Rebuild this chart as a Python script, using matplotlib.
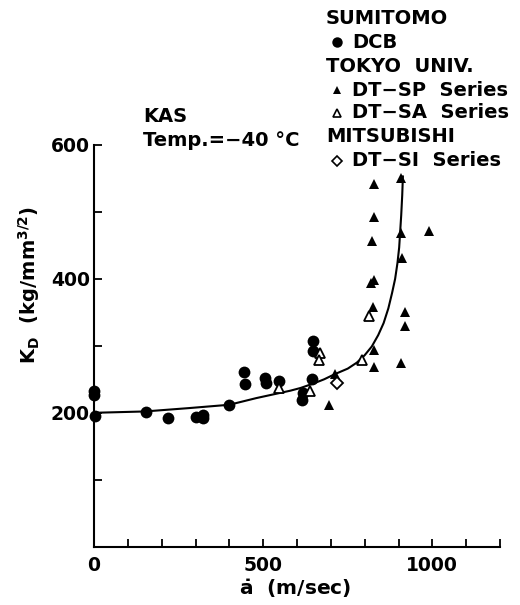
import matplotlib
matplotlib.use("Agg")
import matplotlib.pyplot as plt

plt.rcParams['font.family'] = ['DejaVu Sans']
plt.rcParams['font.weight'] = 'bold'
plt.rcParams['mathtext.fontset'] = 'dejavusans'

# --- data ---
dcb_x = [0, 0, 3, 154, 220, 302, 321, 322, 398, 443, 447, 506, 508, 548, 614, 617, 645, 646, 646]
dcb_y = [233, 226, 195, 201, 192, 193, 196, 192, 212, 261, 243, 252, 244, 247, 219, 229, 250, 307, 292]

sp_x = [827, 906, 827, 821, 991, 907, 911, 827, 819, 825, 918, 918, 827, 827, 906, 713, 696]
sp_y = [542, 551, 493, 457, 472, 469, 431, 398, 394, 358, 350, 330, 294, 268, 274, 258, 212]

sa_x = [812, 793, 668, 664, 637, 548]
sa_y = [344, 279, 290, 279, 232, 237]

si_x = [717]
si_y = [245]

curve_x = [0, 150, 280, 400, 480, 580, 610, 650, 680, 713, 750, 777, 800, 821, 840, 856, 870, 881, 890, 897, 902, 905, 908, 911, 913]
curve_y = [200, 202, 207, 212, 222, 233, 237, 244, 250, 258, 266, 275, 286, 299, 316, 334, 356, 379, 400, 424, 447, 471, 495, 525, 553]

x_major = [0, 500, 1000]
y_major = [200, 400, 600]

fig = plt.figure(figsize=(5.2, 6.05), dpi=100)
ax = fig.add_axes([94/520, 1-546.7/605, (500-94)/520, (546.7-145)/605])

ax.plot(curve_x, curve_y, color='black', lw=1.5, zorder=2)
ax.plot(dcb_x, dcb_y, 'o', color='black', ms=8.5, mew=0, zorder=3, clip_on=False)
ax.plot(sp_x, sp_y, '^', color='black', ms=7, mew=0, zorder=3)
ax.plot(sa_x, sa_y, '^', mfc='white', mec='black', ms=6.5, mew=1.3, zorder=4)
ax.plot(si_x, si_y, 'D', mfc='white', mec='black', ms=6, mew=1.3, zorder=4)

ax.set_xlim(0, 1200)
ax.set_ylim(0, 600)
for s in ['top', 'right']:
    ax.spines[s].set_visible(False)
for s in ['left', 'bottom']:
    ax.spines[s].set_linewidth(1.5)

ax.set_xticks(x_major)
ax.set_xticks(list(range(100, 1201, 100)), minor=True)
ax.set_yticks(y_major)
ax.set_yticks(list(range(100, 601, 100)), minor=True)
ax.tick_params(which='both', direction='in', length=6, width=1.3)
ax.tick_params(axis='x', which='major', pad=7, labelsize=13.5)
ax.tick_params(axis='y', which='major', pad=3, labelsize=13.5)
for lab in ax.get_xticklabels() + ax.get_yticklabels():
    lab.set_fontweight('bold')

fig.text(295/520, 1-589/605, r'$\mathbf{\dot{a}}$  (m/sec)', ha='center', va='center',
         fontsize=14.5, fontweight='bold')
fig.text(29/520, 1-285/605, r'K$_{\mathbf{D}}$  (kg/mm$^{\mathbf{3/2}}$)', ha='center', va='center',
         rotation=90, fontsize=14, fontweight='bold')

fig.text(143/520, 1-117/605, 'KAS', ha='left', va='center', fontsize=14, fontweight='bold')
fig.text(143/520, 1-140/605, 'Temp.=\u221240 \u00b0C', ha='left', va='center', fontsize=14, fontweight='bold')

# legend block
leg_rows = [
    (18, None, 'SUMITOMO'),
    (42, 'dcb', 'DCB'),
    (67, None, 'TOKYO  UNIV.'),
    (90, 'sp', 'DT\u2212SP  Series'),
    (113, 'sa', 'DT\u2212SA  Series'),
    (137, None, 'MITSUBISHI'),
    (161, 'si', 'DT\u2212SI  Series'),
]
for yy, mk, txt in leg_rows:
    yf = 1 - yy/605
    if mk is None:
        fig.text(326/520, yf, txt, ha='left', va='center', fontsize=14, fontweight='bold')
    else:
        fig.text(352/520, yf, txt, ha='left', va='center', fontsize=14, fontweight='bold')
        xm = [337/520]
        ym = [yf]
        if mk == 'dcb':
            fig.lines.append(plt.Line2D(xm, ym, marker='o', color='black', ms=7.5, mew=0, transform=fig.transFigure))
        elif mk == 'sp':
            fig.lines.append(plt.Line2D(xm, ym, marker='^', color='black', ms=6, mew=0, transform=fig.transFigure))
        elif mk == 'sa':
            fig.lines.append(plt.Line2D(xm, ym, marker='^', mfc='white', mec='black', ms=5.5, mew=1.2, transform=fig.transFigure))
        elif mk == 'si':
            fig.lines.append(plt.Line2D(xm, ym, marker='D', mfc='white', mec='black', ms=5, mew=1.2, transform=fig.transFigure))

fig.savefig('out.png', dpi=100)
